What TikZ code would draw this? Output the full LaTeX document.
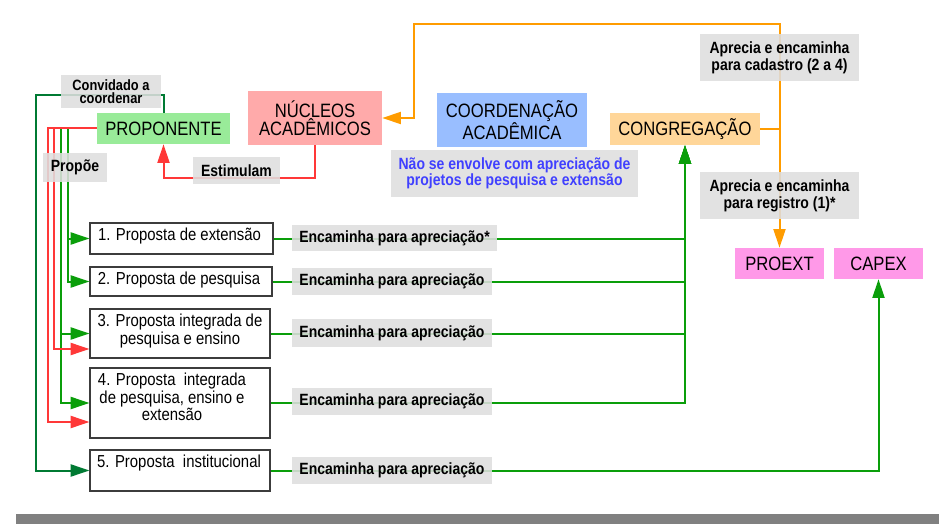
\documentclass[tikz,border=0pt]{standalone}
\usepackage{fontspec}
\setmainfont[FakeStretch=0.86]{Liberation Sans}
\usetikzlibrary{arrows.meta,positioning,calc}
\definecolor{clrProp}{RGB}{153,235,153}
\definecolor{clrNuc}{RGB}{255,170,170}
\definecolor{clrCoord}{RGB}{153,190,255}
\definecolor{clrCong}{RGB}{255,214,153}
\definecolor{clrPro}{RGB}{255,153,232}
\definecolor{clrGr}{RGB}{10,158,10}
\definecolor{clrDG}{RGB}{0,122,51}
\definecolor{clrR}{RGB}{255,56,56}
\definecolor{clrO}{RGB}{255,156,0}
\definecolor{clrBl}{RGB}{64,64,255}
\definecolor{clrBd}{RGB}{60,60,60}
\definecolor{bgTag}{RGB}{222,222,222}
\definecolor{clrBar}{RGB}{128,128,128}
\def\pxu{0.75pt}
\tikzset{
  sz/.style 2 args={minimum width=#1*\pxu,minimum height=#2*\pxu},
  unit/.style={rectangle,inner sep=1pt,align=center,
    font=\fontsize{14.5}{13.5}\selectfont},
  propbox/.style={rectangle,draw=clrBd,line width=0.9pt,fill=white,inner sep=0pt},
  proptext/.style={anchor=north,align=center,inner xsep=0pt,inner ysep=4pt,
    font=\fontsize{13}{12}\selectfont},
  tagbox/.style={rectangle,fill=bgTag,fill opacity=0.88,text opacity=1,inner sep=1pt,
    align=center,font=\bfseries\fontsize{12.2}{12.5}\selectfont},
  arrow/.style={-{Triangle[length=14pt,width=9pt]},line width=1.5pt}
}
\begin{document}
\begin{tikzpicture}[x=0.75pt,y=-0.75pt]
  \useasboundingbox (0,0) rectangle (939,524);
  \node[unit,sz={133}{31},fill=clrProp] (prop) at (163.5,128.5) {PROPONENTE};
  \node[unit,sz={134}{54},fill=clrNuc] (nuc) at (315,118) {NÚCLEOS\\ACADÊMICOS};
  \node[unit,sz={150}{54},fill=clrCoord] (coord) at (512,120) {COORDENAÇÃO\\ACADÊMICA};
  \node[unit,sz={150}{32},fill=clrCong] (cong) at (685,129) {CONGREGAÇÃO};
  \node[unit,sz={89}{31},fill=clrPro] (proext) at (779.5,263.5) {PROEXT};
  \node[unit,sz={89}{31},fill=clrPro] (capex) at (878.5,263.5) {CAPEX};
  % propostas
  \node[propbox,sz={183}{31}] (b1) at (181.5,238.5) {};
  \node[propbox,sz={182}{29}] (b2) at (181,281.5) {};
  \node[propbox,sz={180}{49}] (b3) at (180,333.5) {};
  \node[propbox,sz={180}{70}] (b4) at (180,403) {};
  \node[propbox,sz={180}{41}] (b5) at (180,470.5) {};
  \node[proptext] (t1) at ($(b1.north)+(-2,0)$) {1. Proposta de extensão};
  \node[proptext] (t2) at ($(b2.north)+(-2,0)$) {2. Proposta de pesquisa};
  \node[proptext] (t3) at (b3.north) {3. Proposta integrada de\\pesquisa e ensino};
  \node[proptext] (t4) at ($(b4.north)+(-8,0)$)
    {4. Proposta\ \ integrada\\de pesquisa, ensino e\\extensão};
  \node[proptext] (t5) at ($(b5.north)+(-1,0)$) {5. Proposta\ \ institucional};
  % fluxos
  \coordinate (convx) at (36,95);
  \coordinate (split1) at ($(prop.west)+(-36,0)$);
  \coordinate (split2) at ($(prop.west)+(-29,0)$);
  \draw[arrow,clrDG] (prop.north) |- (convx) |- (b5.west);
  \draw[arrow,clrGr] (split1) |- (b3.west);
  \draw[arrow,clrGr] (split1) |- (b4.west);
  \draw[arrow,clrGr] (split2) |- (b1.west);
  \draw[arrow,clrGr] (split2) |- (b2.west);
  \draw[arrow,clrR] (prop.west) -| ($(b4.west)+(-41,19)$) -- ($(b4.west)+(0,19)$);
  \draw[arrow,clrR] (prop.west) -| ($(b3.west)+(-35,15.5)$) -- ($(b3.west)+(0,15.5)$);
  \draw[arrow,clrR] (nuc.south) |- ($(prop.south)+(0,34)$) -- (prop.south);
  \draw[arrow,clrO] (cong.east) -| (proext.north);
  \draw[arrow,clrO] (cong.east) -| ($(proext.north)+(0,-224)$)
    -| ($(nuc.east)+(32,0)$) -- (nuc.east);
  \draw[arrow,clrGr] (b1.east) -| (cong.south);
  \draw[arrow,clrGr] (b2.east) -| (cong.south);
  \draw[arrow,clrGr] (b3.east) -| (cong.south);
  \draw[arrow,clrGr] (b4.east) -| (cong.south);
  \draw[arrow,clrGr] (b5.east) -| (capex.south);
  % rotulos
  \node[tagbox,sz={100}{33},font=\bfseries\fontsize{11.2}{10.2}\selectfont] (conv)
    at (111,91.5) {Convidado a\\coordenar};
  \node[tagbox,sz={64}{29}] (propoe) at (75,167.5) {Propõe};
  \node[tagbox,sz={87}{27}] (estim) at (236.5,170.5) {Estimulam};
  \node[tagbox,sz={247}{47},text=clrBl,font=\bfseries\fontsize{12.2}{11.8}\selectfont]
    (naoenv) at (514.5,173.5) {Não se envolve com apreciação de\\projetos de pesquisa e extensão};
  \node[tagbox,sz={159}{47}] (cadastro) at (779.5,57.5)
    {Aprecia e encaminha\\para cadastro (2 a 4)};
  \node[tagbox,sz={159}{47}] (registro) at (779.5,195.5)
    {Aprecia e encaminha\\para registro (1)*};
  \node[tagbox,sz={205}{26}] (enc1) at (394.5,238) {Encaminha para apreciação*};
  \node[tagbox,sz={200}{27}] (enc2) at (392,281.5) {Encaminha para apreciação};
  \node[tagbox,sz={200}{28}] (enc3) at (392,333) {Encaminha para apreciação};
  \node[tagbox,sz={200}{27}] (enc4) at (392,401.5) {Encaminha para apreciação};
  \node[tagbox,sz={200}{27}] (enc5) at (392,470.5) {Encaminha para apreciação};
  \fill[clrBar] (16,514) rectangle (939,524);
\end{tikzpicture}
\end{document}
